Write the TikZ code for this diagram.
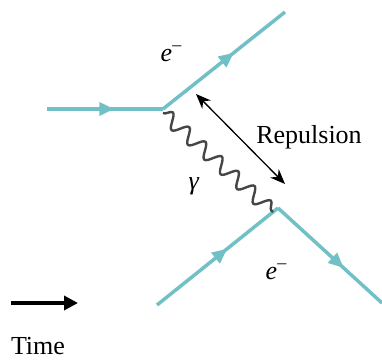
\documentclass[tikz,border=0pt]{standalone}
\usepackage{fontspec}
\setmainfont{Liberation Serif}
\usetikzlibrary{arrows.meta,decorations.pathmorphing,decorations.markings}
\definecolor{fermion}{RGB}{112,192,198}
\definecolor{photon}{RGB}{70,70,70}
\newcommand{\elec}{\textit{e}\raisebox{0.42em}{\fontsize{18}{18}\selectfont –}}
\begin{document}
\begin{tikzpicture}[x=1pt,y=-1pt,
  ferm/.style={draw=fermion,line width=3.5pt,
    postaction={decorate},
    decoration={markings,mark=at position #1 with {\arrow[fermion]{Triangle[length=15pt,width=13pt]}}}},
  ferm/.default=0.5,
  phot/.style={draw=photon,line width=2.4pt,decorate,
    decoration={snake,segment length=22pt,amplitude=7pt}},
  lbl/.style={font=\fontsize{26}{30}\selectfont,inner sep=0pt}]
\useasboundingbox (0,0) rectangle (382,360);
\coordinate (inL) at (47,109);
\coordinate (v1) at (163,109);
\coordinate (outT) at (285,12);
\coordinate (inB) at (157,305);
\coordinate (v2) at (278,208);
\coordinate (outR) at (382,303);
\coordinate (p1) at (163,113);
\coordinate (p2) at (273,212);
\draw[ferm=0.58] (inL) -- (v1);
\draw[ferm=0.58] (v1) -- (outT);
\draw[ferm=0.58] (inB) -- (v2);
\draw[ferm=0.63] (v2) -- (outR);
\draw[phot] (p1) -- (p2);
\coordinate (r1) at (196,94);
\coordinate (r2) at (285,184);
\draw[black,line width=1.3pt,{Stealth[length=15pt,width=12pt]}-{Stealth[length=15pt,width=12pt]}] (r1) -- (r2);
\node[lbl] (rep) at (309,137) {Repulsion};
\node[lbl] (e1) at (171,54) {\elec};
\node[lbl] (e2) at (276,272) {\elec};
\node[lbl] (g) at (194,186) {\textit{γ}};
\coordinate (t1) at (11,303);
\coordinate (t2) at (78,303);
\draw[black,line width=4.5pt,-{Triangle[length=14pt,width=14pt]}] (t1) -- (t2);
\node[lbl] (time) at (38,346) {Time};
\end{tikzpicture}
\end{document}
